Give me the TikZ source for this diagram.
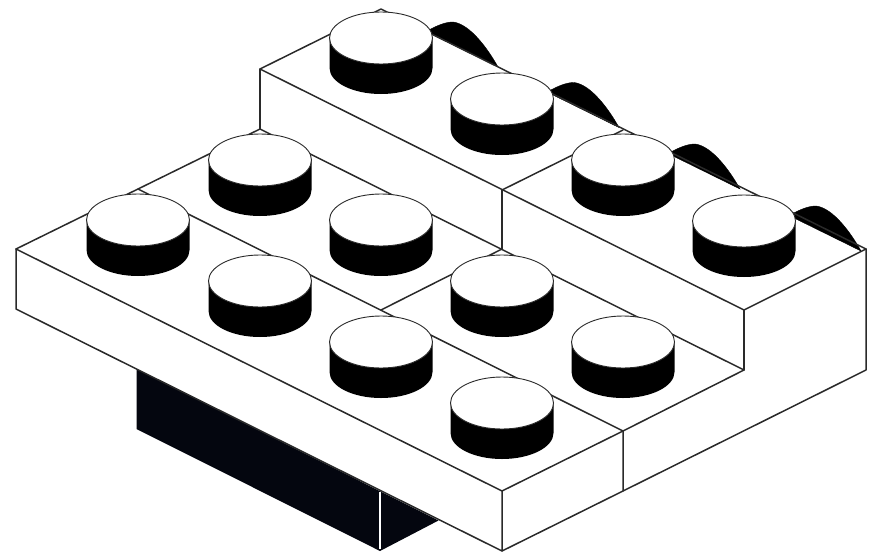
\documentclass[tikz,border=0pt]{standalone}
\definecolor{navyblack}{HTML}{04060F}
\definecolor{edgegrey}{HTML}{2A2A2A}
\tikzset{
  edgeline/.style={draw=edgegrey,line width=1.5pt,line join=round,line cap=round},
  wedgeshape/.style={fill=black,draw=black,line width=0.4pt},
  studbody/.pic={
    \fill[black] (-51.5,0) -- (-51.5,30) arc[start angle=180,end angle=0,x radius=51.5,y radius=26]
      -- (51.5,0) -- cycle;
    \path[fill=white,draw=edgegrey,line width=0.9pt] (0,0) ellipse[x radius=51.5,y radius=26];
  },
  rearwedge/.pic={
    \path[wedgeshape] (-3,0) .. controls (6,-5) and (14,-8) .. (21,-8)
      .. controls (38,-6) and (56,19) .. (66,37) -- (-3,3) -- cycle;
  }
}
\begin{document}
\begin{tikzpicture}[x=1pt,y=-1pt]
\useasboundingbox (0,0) rectangle (869,554);
% dark block under the plate
\fill[navyblack] (136.5,369) -- (136.5,429) -- (380,551) -- (438.5,520.5) -- cycle;
\draw[white,line width=1.1pt] (380,492) -- (380,549);
% rear wedges
\foreach \p in {(432,30),(553,90.5),(674,152),(795,214)}
  \pic at \p {rearwedge};
% upper level
\path[edgeline] (260,69) -- (381,9) -- (866,249) -- (744,310) -- cycle;
\path[edgeline] (502,190) -- (623,130);
\path[edgeline] (260,69) -- (260,129);
\path[edgeline] (502,190) -- (502,249);
\path[edgeline] (744,310) -- (744,370);
\path[edgeline] (866,249) -- (866,370) -- (623,491);
% lower level
\path[edgeline] (16,249) -- (260,129) -- (744,370) -- (623,431);
\path[edgeline] (16,249) -- (502,491) -- (623,431);
\path[edgeline] (138,189) -- (623,431);
\path[edgeline] (381,310) -- (502,249);
\path[edgeline] (16,249) -- (16,309) -- (502,551) -- (502,491);
\path[edgeline] (502,551) -- (623,491) -- (623,431);
% studs
\foreach \p in {(381,38),(502,99),(623,160),(744,221),
                (260,160),(381,220),(138,220),(260,281),
                (502,281),(381,342),(623,342),(502,403)}
  \pic at \p {studbody};
\end{tikzpicture}
\end{document}
